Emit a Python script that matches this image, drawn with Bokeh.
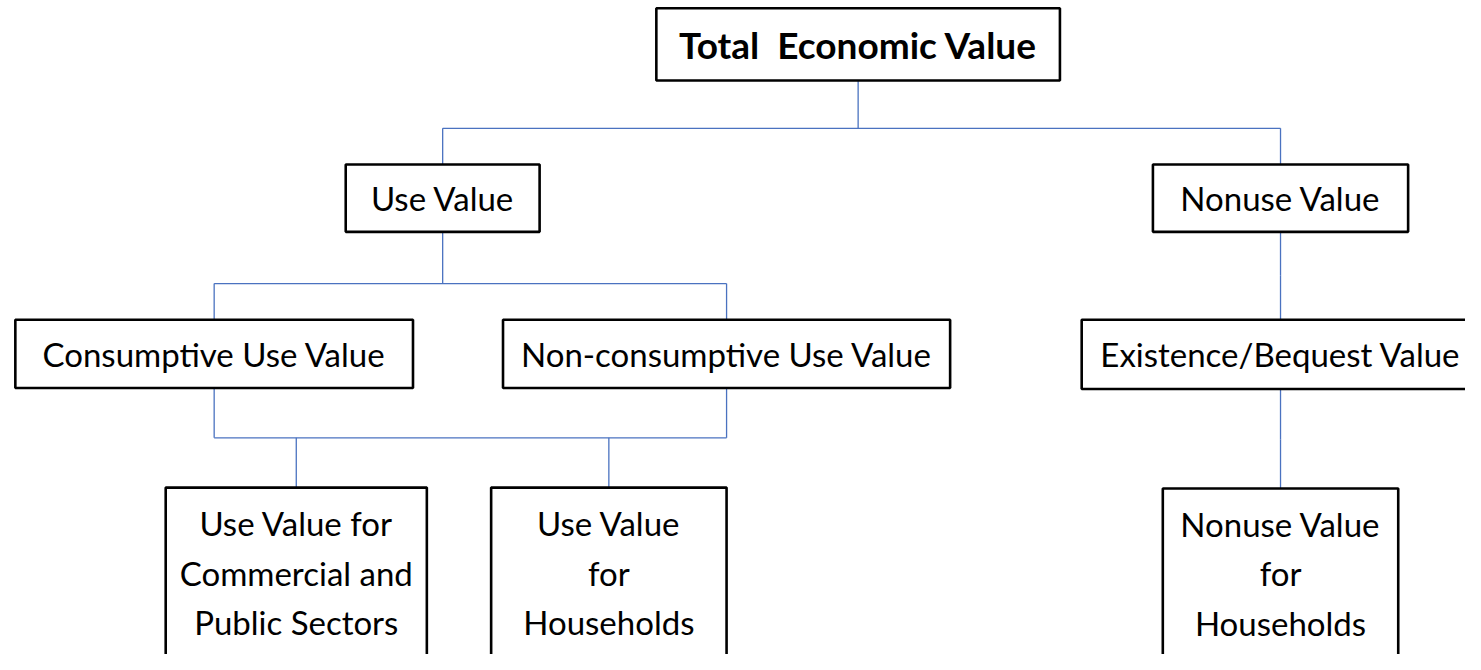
from bokeh.plotting import figure
from bokeh.models import Range1d
from bokeh.core.properties import value
from bokeh.embed import file_html
from bokeh.resources import INLINE

# ---- content ----
node_ids = ["tev", "use", "nonuse", "cons", "noncons", "exist", "commpub", "hh_use", "hh_nonuse"]
node_labels = [
    ["Total\u00a0 Economic Value"],
    ["Use Value"],
    ["Nonuse Value"],
    ["Consumptive Use Value"],
    ["Non-consumptive Use Value"],
    ["Existence/Bequest Value"],
    ["Use Value for", "Commercial and", "Public Sectors"],
    ["Use Value", "for", "Households"],
    ["Nonuse Value", "for", "Households"],
]
node_bold = [True, False, False, False, False, False, False, False, False]

# tree structure: (parents, children)
links = [
    (["tev"], ["use", "nonuse"]),
    (["use"], ["cons", "noncons"]),
    (["nonuse"], ["exist"]),
    (["cons", "noncons"], ["commpub", "hh_use"]),
    (["exist"], ["hh_nonuse"]),
]

# ---- layout (reference pixel coordinates, 1481 x 670 canvas) ----
box_left = [663, 349, 1165, 15, 508, 1093, 167, 496, 1175]
box_right = [1071, 545, 1423, 417, 960, 1495, 431, 734, 1413]
box_top = [8, 168, 168, 327, 327, 327, 499, 499, 500]
box_bottom = [82, 237, 237, 397, 397, 398, 720, 720, 720]
bus_y = [131, 290, 282, 448, 450]
line_gap = 51
first_line_offset = 36

W, H = 1465, 654
p = figure(width=W, height=H, output_backend="svg", toolbar_location=None,
           x_range=Range1d(0, 1481), y_range=Range1d(670, 0),
           min_border=0, border_fill_color="white", background_fill_color="white")
p.axis.visible = False
p.grid.visible = False
p.outline_line_color = None

idx = {n: i for i, n in enumerate(node_ids)}
cx = [(l + r) / 2 for l, r in zip(box_left, box_right)]

# connectors
xs, ys = [], []
for (parents, children), by in zip(links, bus_y):
    pts = []
    for n in parents:
        i = idx[n]
        xs.append([cx[i], cx[i]]); ys.append([box_bottom[i], by])
        pts.append(cx[i])
    for n in children:
        i = idx[n]
        xs.append([cx[i], cx[i]]); ys.append([by, box_top[i]])
        pts.append(cx[i])
    if max(pts) > min(pts):
        xs.append([min(pts), max(pts)]); ys.append([by, by])
p.multi_line(xs, ys, line_color="#4a72c0", line_width=1.3)

# boxes
p.quad(left=box_left, right=box_right, top=box_top, bottom=box_bottom,
       fill_color="white", line_color="black", line_width=2.6)

# labels
for i, lines in enumerate(node_labels):
    if len(lines) == 1:
        ty = [(box_top[i] + box_bottom[i]) / 2]
    else:
        ty = [box_top[i] + first_line_offset + k * line_gap for k in range(len(lines))]
    p.text(x=[cx[i]] * len(lines), y=ty, text=lines,
           text_font=value("Lato"),
           text_font_size="37px" if node_bold[i] else "33px",
           text_font_style="bold" if node_bold[i] else "normal",
           text_align="center", text_baseline="middle", text_color="black")

open("out.html", "w").write(file_html(p, INLINE))
